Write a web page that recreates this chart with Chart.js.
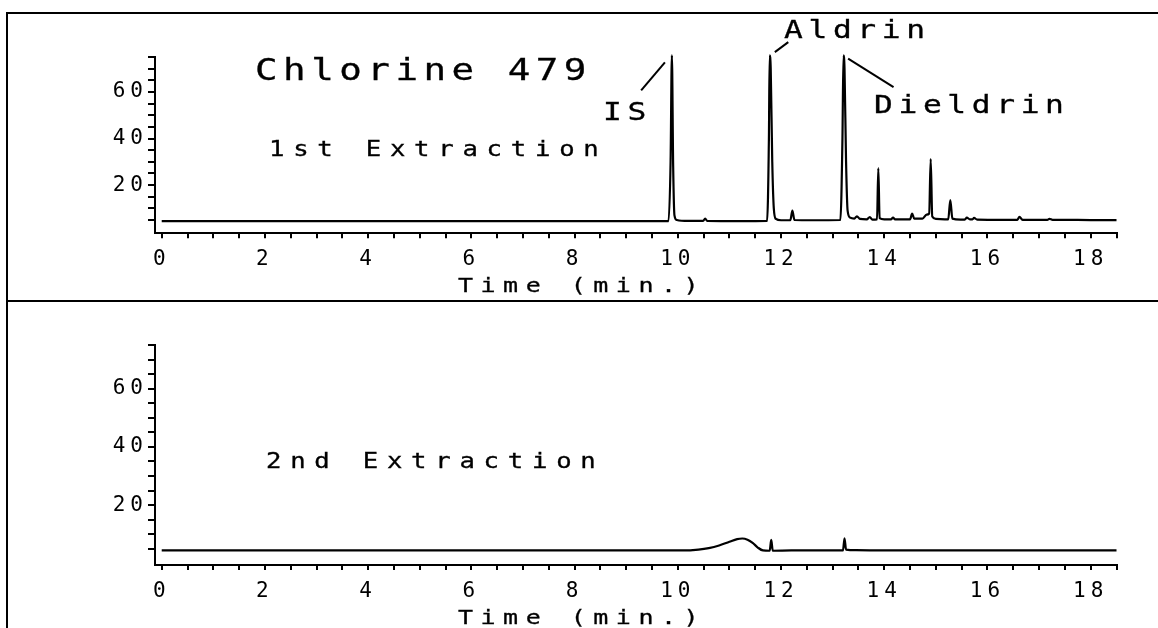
<!DOCTYPE html>
<html>
<head>
<meta charset="utf-8">
<script src="https://cdn.jsdelivr.net/npm/chart.js@4.4.1/dist/chart.umd.min.js"></script>
<style>
  html, body { margin: 0; padding: 0; background: #fff; }
  body { width: 1158px; height: 628px; position: relative; overflow: hidden; }
  .frame { position: absolute; left: 6px; top: 12px; width: 1200px; height: 700px;
           border-top: 2px solid #000; border-left: 2px solid #000; }
  .divider { position: absolute; left: 6px; top: 300px; width: 1200px; height: 2px; background: #000; }
  canvas { position: absolute; left: 0; }
  .lbl { position: absolute; font-family: 'DejaVu Sans Mono', monospace; line-height: 1;
         white-space: nowrap; color: #000; transform-origin: 0 0; transform: scaleX(1.25);
         -webkit-text-stroke: 0.3px #000; }
</style>
</head>
<body>
<div class="frame"></div>
<div class="divider"></div>
<canvas id="run1" width="1158" height="286" style="top:14px"></canvas>
<canvas id="run2" width="1158" height="326" style="top:302px"></canvas>

<div class="lbl" style="left:254.6px;top:54.5px;font-size:30px;letter-spacing:4.4px">Chlorine 479</div>
<div class="lbl" style="left:269px;top:139.3px;font-size:20.5px;letter-spacing:7px">1st Extraction</div>
<div class="lbl" style="left:603px;top:98.8px;font-size:25px;letter-spacing:4.5px">IS</div>
<div class="lbl" style="left:783.7px;top:17.1px;font-size:25px;letter-spacing:4.5px">Aldrin</div>
<div class="lbl" style="left:874px;top:92.1px;font-size:25px;letter-spacing:4.5px">Dieldrin</div>
<div class="lbl" style="left:457.5px;top:275.4px;font-size:20px;letter-spacing:6px">Time (min.)</div>
<div class="lbl" style="left:265.5px;top:450.9px;font-size:20.5px;letter-spacing:7px">2nd Extraction</div>
<div class="lbl" style="left:457.5px;top:606.7px;font-size:20px;letter-spacing:6px">Time (min.)</div>

<script>
// retention time axis
const timeLabels = [0, 2, 4, 6, 8, 10, 12, 14, 16, 18];
const timeStep = 0.5;
const X_MIN = -0.13, X_MAX = 18.5;

// response axis
const signalTicks = [5, 10, 15, 20, 25, 30, 35, 40, 45, 50, 55, 60, 65, 70, 75];
const signalLabels = [20, 40, 60];

// 1st extraction trace
const run1Time = [0, 1.5, 3, 4.5, 6, 7.5, 9, 9.82, 9.86, 9.885, 9.91, 9.935, 9.98, 10.2, 10.49, 10.53, 10.57,
  11.2, 11.73, 11.765, 11.78, 11.8, 11.83, 11.86, 11.9, 12.0, 12.18, 12.22, 12.26, 12.6,
  13.15, 13.19, 13.21, 13.23, 13.26, 13.29, 13.34, 13.42, 13.47, 13.53, 13.66, 13.72, 13.77,
  13.86, 13.885, 13.91, 14.0, 14.13, 14.17, 14.21, 14.3, 14.5, 14.54, 14.58, 14.74, 14.82, 14.87, 14.9, 14.93,
  15.0, 15.24, 15.28, 15.32, 15.48, 15.56, 15.6, 15.66, 15.71, 15.74, 15.8, 16.3, 16.58, 16.62, 16.68, 17.0,
  17.16, 17.2, 17.26, 17.5, 18.0, 18.5];
const run1Signal = [4.5, 4.5, 4.5, 4.5, 4.5, 4.5, 4.5, 4.5, 30, 75.7, 28, 7, 5, 4.6, 4.6, 5.6, 4.6,
  4.5, 4.6, 40, 75.7, 70, 30, 10, 5.5, 4.9, 4.9, 9, 5, 4.9,
  5, 40, 75.7, 70, 30, 9, 6, 5.6, 6.6, 5.5, 5.3, 6.3, 5.2,
  5.3, 27.3, 5.8, 5.3, 5.3, 6, 5.3, 5.3, 5.3, 7.8, 5.6, 5.6, 7.3, 7.8, 31.2, 6.5,
  5.5, 5.3, 13.6, 5.6, 5.2, 5.2, 6, 5.3, 5.3, 5.9, 5.2, 5.1, 5.1, 6.4, 5.1, 5.1,
  5.1, 5.5, 5.1, 5.1, 5.0, 5.0];

// 2nd extraction trace
const run2Time = [0, 2, 4, 6, 8, 9.5, 10.1, 10.4, 10.6, 10.8, 11.0, 11.15, 11.25, 11.35, 11.45, 11.55,
  11.65, 11.78, 11.81, 11.84, 12.2, 13.0, 13.2, 13.23, 13.26, 13.45, 14, 15, 16, 17, 18.5];
const run2Signal = [4.4, 4.4, 4.4, 4.4, 4.4, 4.4, 4.4, 4.7, 5.2, 6.1, 7.4, 8.3, 8.5, 8.1, 7.0, 5.4,
  4.4, 4.3, 8.0, 4.3, 4.4, 4.4, 4.4, 8.6, 4.7, 4.5, 4.4, 4.4, 4.4, 4.4, 4.4];

// peak label leaders [t1, s1, t2, s2]
const run1Leaders = [
  [9.75, 72.7, 9.29, 60.7],
  [11.88, 77.1, 12.14, 81.4],
  [13.30, 74.3, 14.18, 62.1]
];

const minorTimes = [];
for (let i = 0; i * timeStep <= X_MAX + 1e-9; i++) minorTimes.push(i * timeStep);

const FONT = "'DejaVu Sans Mono', monospace";

// plotter-style wide lettering on the canvas
const spacing = {
  id: 'spacing',
  beforeDraw(chart) { chart.ctx.letterSpacing = '5px'; }
};

function leaders(lines) {
  return {
    id: 'leaders',
    afterDatasetsDraw(chart) {
      const { ctx, scales: { x, y } } = chart;
      ctx.save();
      ctx.strokeStyle = '#000';
      ctx.lineWidth = 2;
      lines.forEach(l => {
        ctx.beginPath();
        ctx.moveTo(x.getPixelForValue(l[0]), y.getPixelForValue(l[1]));
        ctx.lineTo(x.getPixelForValue(l[2]), y.getPixelForValue(l[3]));
        ctx.stroke();
      });
      ctx.restore();
    }
  };
}

function makeChart(id, times, signal, yMin, xAxisHeight, lines) {
  const points = times.map((t, i) => ({ x: t, y: signal[i] }));
  return new Chart(document.getElementById(id), {
    type: 'line',
    data: {
      datasets: [{
        data: points,
        borderColor: '#000',
        borderWidth: 2.2,
        pointRadius: 0,
        fill: false,
        cubicInterpolationMode: 'monotone',
        clip: false
      }]
    },
    options: {
      responsive: false,
      animation: false,
      devicePixelRatio: 1,
      events: [],
      layout: { padding: { left: 0, right: 41.5, top: 43, bottom: 0 } },
      plugins: { legend: { display: false }, tooltip: { enabled: false } },
      scales: {
        x: {
          type: 'linear',
          min: X_MIN,
          max: X_MAX,
          afterFit: s => { s.height = xAxisHeight; },
          afterBuildTicks: s => { s.ticks = minorTimes.map(v => ({ value: v })); },
          border: { display: true, color: '#000', width: 2 },
          grid: { drawOnChartArea: false, drawTicks: true, tickLength: 5, color: '#000', lineWidth: 2 },
          ticks: {
            autoSkip: false, maxRotation: 0, padding: 9, color: '#000',
            font: { family: FONT, size: 21 },
            callback: v => timeLabels.includes(v) ? String(v) : ''
          }
        },
        y: {
          min: yMin,
          max: 75,
          afterFit: s => { s.width = 155; },
          afterBuildTicks: s => { s.ticks = signalTicks.map(v => ({ value: v })); },
          border: { display: true, color: '#000', width: 2 },
          grid: { drawOnChartArea: false, drawTicks: true, tickLength: 7, color: '#000', lineWidth: 2 },
          ticks: {
            autoSkip: false, padding: 0, color: '#000',
            font: { family: FONT, size: 21 },
            callback: v => signalLabels.includes(v) ? String(v) : ''
          }
        }
      }
    },
    plugins: [spacing, leaders(lines)]
  });
}

makeChart('run1', run1Time, run1Signal, -0.7, 66.7, run1Leaders);
makeChart('run2', run2Time, run2Signal, -0.6, 63, []);
</script>
</body>
</html>
